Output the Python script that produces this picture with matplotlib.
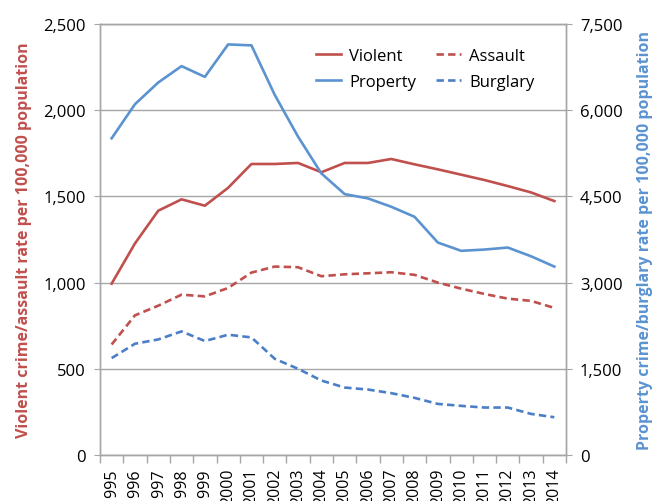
import numpy as np
import matplotlib
matplotlib.use("Agg")
import matplotlib.pyplot as plt
from matplotlib.ticker import FuncFormatter

plt.rcParams["font.family"] = ["Open Sans", "DejaVu Sans"]

years = list(range(1995, 2015))

# left axis: rates per 100,000
violent = [994, 1227, 1417, 1483, 1446, 1550, 1688, 1688, 1694, 1640,
           1694, 1694, 1717, 1686, 1657, 1626, 1595, 1560, 1523, 1473]
assault = [641, 810, 866, 930, 920, 969, 1058, 1093, 1089, 1037,
           1048, 1054, 1060, 1045, 1000, 965, 934, 907, 894, 853]

# right axis
property_ = [5511, 6104, 6482, 6767, 6580, 7145, 7128, 6266, 5540, 4900,
             4540, 4465, 4320, 4145, 3697, 3553, 3575, 3610, 3458, 3279]
burglary = [1686, 1936, 2011, 2151, 1983, 2093, 2046, 1674, 1500, 1296,
            1174, 1139, 1076, 994, 889, 855, 826, 826, 715, 657]

red = "#C0504D"
blue = "#5B93D1"
grid_c = "#A6A6A6"

fig = plt.figure(figsize=(6.64, 5.02), dpi=100)
ax = fig.add_axes([100/664, 1-456/502, 466/664, 431/502])
ax2 = ax.twinx()

x = np.arange(len(years))
lw = 1.9
l1, = ax.plot(x, violent, color=red, lw=lw, label="Violent")
l2, = ax.plot(x, assault, color=red, lw=lw, ls=(0, (2.8, 1.6)), label="Assault")
l3, = ax2.plot(x, property_, color=blue, lw=lw, label="Property")
l4, = ax2.plot(x, burglary, color="#4A7FC8", lw=lw, ls=(0, (2.8, 1.6)), label="Burglary")

ax.set_xlim(-0.5, len(years) - 0.5)
ax.set_ylim(0, 2500)
ax2.set_ylim(0, 7500)
ax.set_yticks(range(0, 2501, 500))
ax2.set_yticks(range(0, 7501, 1500))
fmt = FuncFormatter(lambda v, p: f"{int(v):,}")
ax.yaxis.set_major_formatter(fmt)
ax2.yaxis.set_major_formatter(fmt)

ax.set_xticks(x)
ax.set_xticklabels([str(y) for y in years], rotation=90, fontsize=11.5)
ax.set_xticks(np.arange(-0.5, len(years), 1), minor=True)
ax.tick_params(axis="x", which="major", length=0, pad=9)
ax.tick_params(axis="x", which="minor", length=6, color=grid_c, width=1)
ax.tick_params(axis="y", labelsize=12, length=4, color=grid_c, pad=6)
ax2.tick_params(axis="y", labelsize=12, length=4, color=grid_c, pad=6)

ax.yaxis.grid(True, color=grid_c, lw=1)
ax.set_axisbelow(True)
for a in (ax, ax2):
    for s in a.spines.values():
        s.set_color(grid_c)
        s.set_linewidth(1)

ax.set_ylabel("Violent crime/assault rate per 100,000 population",
              color=red, fontsize=11.5, fontweight="bold", labelpad=8)
ax2.set_ylabel("Property crime/burglary rate per 100,000 population",
               color=blue, fontsize=11.5, fontweight="bold", labelpad=10)

ax2.legend([l1, l3, l2, l4], ["Violent", "Property", "Assault", "Burglary"],
           ncol=2, frameon=False, fontsize=12, loc="upper right",
           bbox_to_anchor=(0.965, 0.98), handlelength=1.5, handletextpad=0.5,
           columnspacing=1.2, labelspacing=0.6)

fig.savefig("out.png", dpi=100)
